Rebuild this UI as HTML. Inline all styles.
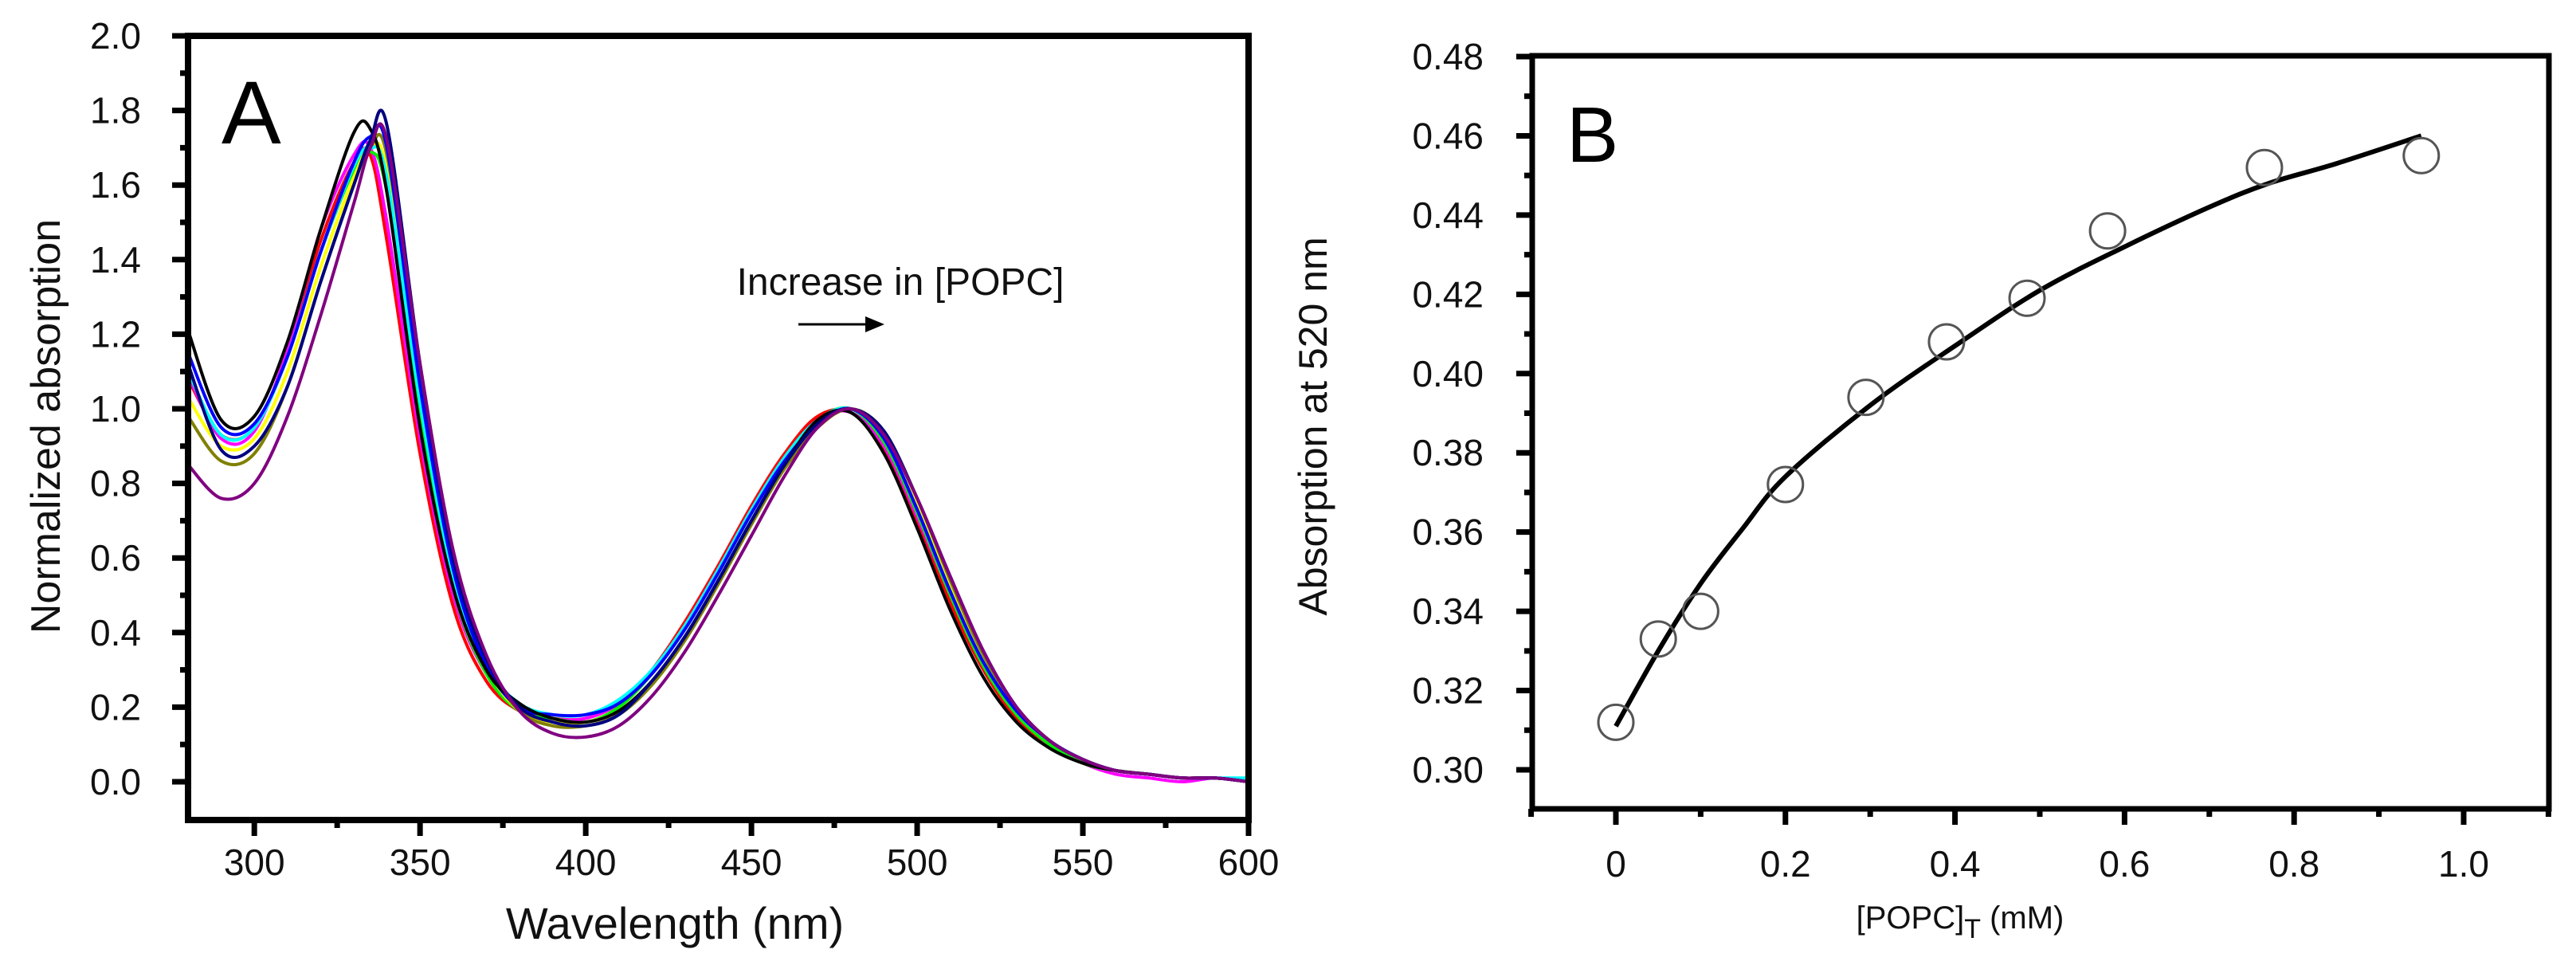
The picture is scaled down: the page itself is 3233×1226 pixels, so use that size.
<!DOCTYPE html>
<html><head><meta charset="utf-8"><style>
html,body{margin:0;padding:0;background:#fff;}
svg{display:block;font-family:"Liberation Sans",sans-serif;}
</style></head>
<body>
<svg id="fig" width="3233" height="1226" viewBox="0 0 3233 1226" xmlns="http://www.w3.org/2000/svg">
  <g id="panelA"></g>
  <g id="panelB"></g>
</svg>
<script>
// ---------- Panel A data ----------
const wavelengths = [280,290,300,310,320,330,335,340,350,360,370,380,390,400,410,420,430,440,450,460,470,480,490,500,510,520,530,540,550,560,570,580,590,600];
const seriesBlack  = [1.21,0.97,0.98,1.18,1.48,1.74,1.75,1.58,0.95,0.52,0.30,0.21,0.17,0.16,0.19,0.27,0.39,0.54,0.70,0.85,0.97,0.99,0.88,0.68,0.46,0.28,0.16,0.09,0.05,0.03,0.02,0.01,0.01,0.0];
const seriesRed    = [1.08,0.93,0.95,1.15,1.45,1.66,1.68,1.45,0.88,0.47,0.27,0.19,0.17,0.17,0.21,0.30,0.43,0.58,0.74,0.88,0.98,0.99,0.89,0.70,0.48,0.30,0.17,0.10,0.05,0.03,0.02,0.01,0.01,0.0];
const seriesMagenta= [1.09,0.92,0.94,1.16,1.48,1.68,1.70,1.50,0.92,0.50,0.29,0.20,0.17,0.17,0.21,0.29,0.42,0.57,0.73,0.87,0.97,0.99,0.90,0.71,0.50,0.31,0.18,0.10,0.05,0.02,0.01,0.0,0.01,0.0];
const seriesGreen  = [1.10,0.93,0.95,1.14,1.42,1.64,1.69,1.58,0.98,0.52,0.29,0.19,0.17,0.16,0.20,0.29,0.41,0.56,0.72,0.87,0.97,1.00,0.91,0.72,0.50,0.31,0.18,0.10,0.05,0.03,0.02,0.01,0.01,0.0];
const seriesYellow = [1.03,0.90,0.92,1.10,1.38,1.62,1.70,1.64,1.04,0.56,0.31,0.19,0.16,0.16,0.19,0.27,0.39,0.54,0.70,0.85,0.96,1.00,0.93,0.75,0.53,0.33,0.19,0.11,0.06,0.03,0.02,0.01,0.01,0.0];
const seriesOlive  = [0.98,0.86,0.88,1.06,1.34,1.60,1.70,1.68,1.08,0.58,0.32,0.19,0.15,0.15,0.18,0.26,0.38,0.53,0.69,0.84,0.95,1.00,0.94,0.76,0.54,0.34,0.20,0.11,0.06,0.03,0.02,0.01,0.01,0.0];
const seriesCyan   = [1.10,0.93,0.95,1.14,1.42,1.65,1.70,1.62,1.02,0.55,0.31,0.21,0.18,0.18,0.22,0.30,0.42,0.57,0.73,0.87,0.97,1.00,0.92,0.73,0.51,0.32,0.19,0.11,0.06,0.03,0.02,0.01,0.01,0.01];
const seriesBlue   = [1.15,0.95,0.96,1.14,1.42,1.66,1.73,1.70,1.06,0.57,0.31,0.20,0.18,0.18,0.21,0.29,0.41,0.56,0.72,0.86,0.96,1.00,0.92,0.73,0.51,0.32,0.19,0.11,0.06,0.03,0.02,0.01,0.01,0.0];
const seriesNavy   = [1.12,0.89,0.90,1.06,1.34,1.60,1.72,1.76,1.12,0.60,0.33,0.20,0.16,0.15,0.18,0.27,0.39,0.54,0.70,0.85,0.96,1.00,0.94,0.76,0.55,0.35,0.20,0.11,0.06,0.03,0.02,0.01,0.01,0.0];
const seriesPurple = [0.85,0.76,0.80,0.98,1.25,1.55,1.70,1.72,1.12,0.62,0.34,0.19,0.13,0.12,0.15,0.23,0.35,0.50,0.66,0.82,0.95,1.00,0.93,0.76,0.55,0.35,0.20,0.11,0.06,0.03,0.02,0.01,0.01,0.0];
const seriesList  = [seriesRed,seriesMagenta,seriesGreen,seriesYellow,seriesOlive,seriesCyan,seriesBlue,seriesBlack,seriesNavy,seriesPurple];
const seriesNames = ['red','magenta','green','yellow','olive','cyan','blue','black','navy','purple'];
const seriesColors= ['#ff0000','#ff00ff','#00ee00','#ffff00','#808000','#00ffff','#0000ff','#000000','#000080','#800080'];
const xTicksA = [300,350,400,450,500,550,600];
const yTicksA = [0.0,0.2,0.4,0.6,0.8,1.0,1.2,1.4,1.6,1.8,2.0];

// ---------- Panel B data ----------
const concPoints = [0,0.05,0.1,0.2,0.295,0.39,0.485,0.58,0.765,0.95];
const absPoints  = [0.312,0.333,0.340,0.372,0.394,0.408,0.419,0.436,0.452,0.455];
const fitConc = [0,0.05,0.1,0.15,0.2,0.3,0.4,0.5,0.6,0.7,0.77,0.85,0.95];
const fitAbs  = [0.311,0.330,0.347,0.361,0.374,0.392,0.407,0.421,0.432,0.442,0.448,0.453,0.460];
const xTicksB = [0,0.2,0.4,0.6,0.8,1.0];
const xTickLabelsB = ['0','0.2','0.4','0.6','0.8','1.0'];
const yTicksB = [0.30,0.32,0.34,0.36,0.38,0.40,0.42,0.44,0.46,0.48];

const NS='http://www.w3.org/2000/svg';
function mk(tag, attrs, parent){const e=document.createElementNS(NS,tag);for(const k in attrs)e.setAttribute(k,attrs[k]);parent.appendChild(e);return e;}
function smoothPath(pts){let d='M'+pts[0][0].toFixed(1)+','+pts[0][1].toFixed(1);
  for(let i=0;i<pts.length-1;i++){const p0=pts[i-1]||pts[i],p1=pts[i],p2=pts[i+1],p3=pts[i+2]||p2;
    const c1=[p1[0]+(p2[0]-p0[0])/6,p1[1]+(p2[1]-p0[1])/6],c2=[p2[0]-(p3[0]-p1[0])/6,p2[1]-(p3[1]-p1[1])/6];
    d+=' C'+c1[0].toFixed(1)+','+c1[1].toFixed(1)+' '+c2[0].toFixed(1)+','+c2[1].toFixed(1)+' '+p2[0].toFixed(1)+','+p2[1].toFixed(1);}
  return d;}

// ---------- Panel A ----------
const A=document.getElementById('panelA');
const axL=236, axR=1567, axT=45, axB=1029;
const xA=v=>axL+(v-280)/(600-280)*(axR-axL);
const yA=v=>981-v*(981-45)/2;
seriesList.forEach((s,i)=>{
  const p=mk('path',{d:smoothPath(wavelengths.map((w,j)=>[xA(w),yA(s[j])])),fill:'none',stroke:seriesColors[i],'stroke-width':4,'stroke-linejoin':'round'},A);
  
  
});
const frA=mk('rect',{x:axL,y:axT,width:axR-axL,height:axB-axT,fill:'none',stroke:'#000','stroke-width':8},A);


for(let v=0;v<=2.0001;v+=0.1){const maj=Math.abs(v*5-Math.round(v*5))<1e-6;
  const t=mk('line',{x1:axL-(maj?20:10),x2:axL,y1:yA(v),y2:yA(v),stroke:'#000','stroke-width':7},A);
  
  }
for(let w=300;w<=600;w+=25){const maj=w%50===0;
  const t=mk('line',{x1:xA(w),x2:xA(w),y1:axB,y2:axB+(maj?20:10),stroke:'#000','stroke-width':7},A);
  
  }
yTicksA.forEach(v=>{const t=mk('text',{x:177,y:yA(v)+16,'text-anchor':'end','font-size':46,fill:'#111'},A);t.textContent=v.toFixed(1);
  
  });
xTicksA.forEach(v=>{const t=mk('text',{x:xA(v),y:1098,'text-anchor':'middle','font-size':46,fill:'#111'},A);t.textContent=v;
  
  });
let t;
t=mk('text',{x:0,y:0,transform:'translate(75,535) rotate(-90)','text-anchor':'middle','font-size':52,fill:'#111'},A);t.textContent='Normalized absorption';


t=mk('text',{x:847,y:1178,'text-anchor':'middle','font-size':56,fill:'#111'},A);t.textContent='Wavelength (nm)';


t=mk('text',{x:278,y:180,'font-size':112,fill:'#000'},A);t.textContent='A';


t=mk('text',{x:1130,y:370,'text-anchor':'middle','font-size':48,fill:'#111'},A);t.textContent='Increase in [POPC]';


t=mk('line',{x1:1002,x2:1090,y1:407,y2:407,stroke:'#000','stroke-width':3},A);


t=mk('polygon',{points:'1086,397 1110,407 1086,417',fill:'#000'},A);



// ---------- Panel B ----------
const B=document.getElementById('panelB');
const bL=1923,bR=3199,bT=70,bB=1015;
const xB=v=>2028+v*(3092-2028);
const yB=v=>966-(v-0.30)*(966-71)/0.18;
t=mk('path',{d:smoothPath(fitConc.map((c,i)=>[xB(c),yB(fitAbs[i])])),fill:'none',stroke:'#000','stroke-width':6},B);


concPoints.forEach((c,i)=>{const m=mk('circle',{cx:xB(c),cy:yB(absPoints[i]),r:22,fill:'none',stroke:'#555','stroke-width':3},B);
  
  });
t=mk('rect',{x:bL,y:bT,width:bR-bL,height:bB-bT,fill:'none',stroke:'#000','stroke-width':7},B);


for(let k=0;k<=18;k++){const v=0.30+k*0.01,maj=k%2===0;
  const tk=mk('line',{x1:bL-(maj?20:10),x2:bL,y1:yB(v),y2:yB(v),stroke:'#000','stroke-width':7},B);
  
  }
for(let k=-1;k<=11;k++){const v=k*0.1,maj=k%2===0;
  const tk=mk('line',{x1:xB(v),x2:xB(v),y1:bB,y2:bB+(maj?20:10),stroke:'#000','stroke-width':7},B);
  
  }
yTicksB.forEach(v=>{const tx=mk('text',{x:1862,y:yB(v)+16,'text-anchor':'end','font-size':46,fill:'#111'},B);tx.textContent=v.toFixed(2);
  
  });
xTicksB.forEach((v,i)=>{const tx=mk('text',{x:xB(v),y:1100,'text-anchor':'middle','font-size':46,fill:'#111'},B);tx.textContent=xTickLabelsB[i];
  
  });
t=mk('text',{x:0,y:0,transform:'translate(1665,535) rotate(-90)','text-anchor':'middle','font-size':50,fill:'#111'},B);t.textContent='Absorption at 520 nm';


t=mk('text',{x:2460,y:1165,'text-anchor':'middle','font-size':40,fill:'#111'},B);
t.innerHTML='[POPC]<tspan dy="12" font-size="34">T</tspan><tspan dy="-12"> (mM)</tspan>';


t=mk('text',{x:1966,y:203,'font-size':98,fill:'#000'},B);t.textContent='B';


</script>
</body></html>
